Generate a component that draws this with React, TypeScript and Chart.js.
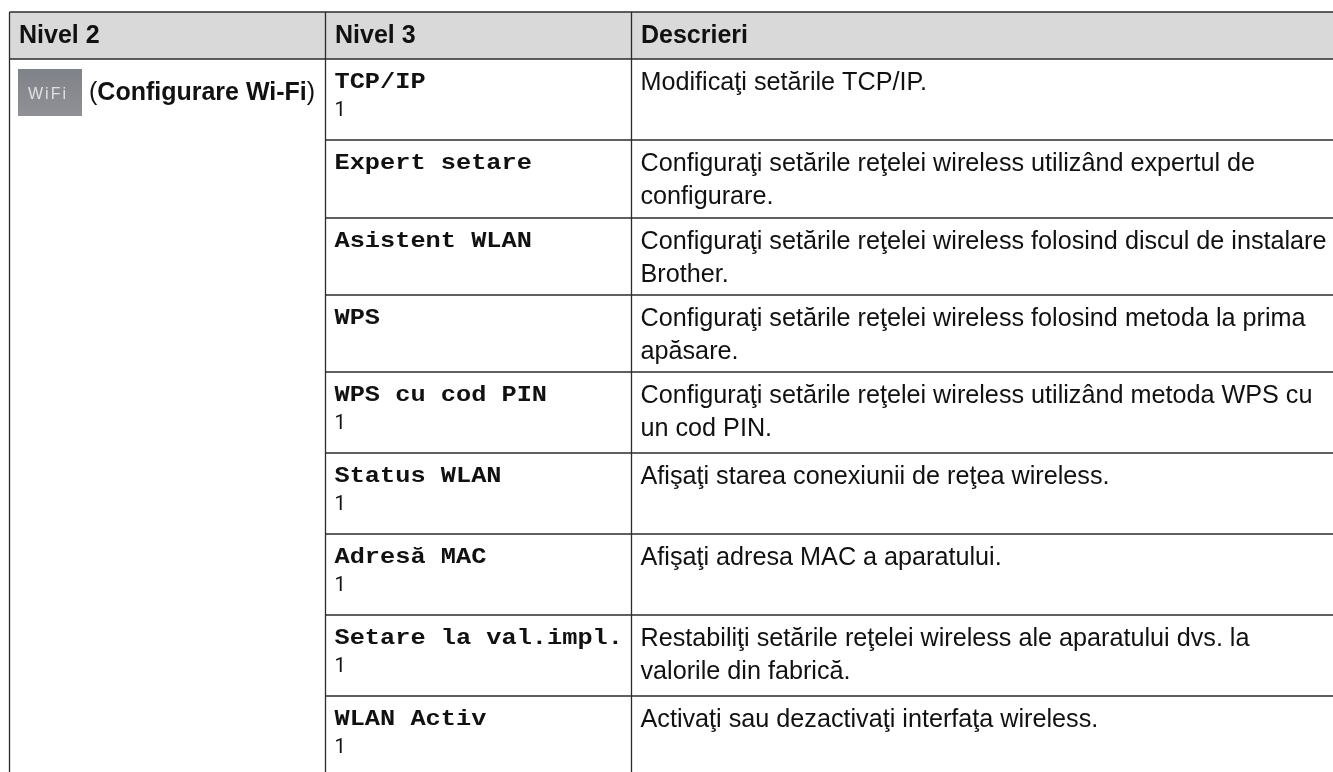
import React, { useEffect, useRef } from "react";
import { Chart, registerables } from "chart.js";

Chart.register(...registerables);

const SANS = '"Liberation Sans", Arial, sans-serif';
const MONO = '"Liberation Mono", "Courier New", monospace';
const DIGIT = 'Roboto, "Liberation Sans", sans-serif';

const headers = ["Nivel 2", "Nivel 3", "Descrieri"];
const level2Label = ["(", "Configurare Wi-Fi", ")"];
const iconLabel = "WiFi";
const settings = [
  "TCP/IP",
  "Expert setare",
  "Asistent WLAN",
  "WPS",
  "WPS cu cod PIN",
  "Status WLAN",
  "Adresă MAC",
  "Setare la val.impl.",
  "WLAN Activ",
];
const footnotes = ["1", "", "", "", "1", "1", "1", "1", "1"];
const descriptions = [
  ["Modificaţi setările TCP/IP."],
  ["Configuraţi setările reţelei wireless utilizând expertul de", "configurare."],
  ["Configuraţi setările reţelei wireless folosind discul de instalare", "Brother."],
  ["Configuraţi setările reţelei wireless folosind metoda la prima", "apăsare."],
  ["Configuraţi setările reţelei wireless utilizând metoda WPS cu", "un cod PIN."],
  ["Afişaţi starea conexiunii de reţea wireless."],
  ["Afişaţi adresa MAC a aparatului."],
  ["Restabiliţi setările reţelei wireless ale aparatului dvs. la", "valorile din fabrică."],
  ["Activaţi sau dezactivaţi interfaţa wireless."],
];

const columnEdges = [9.5, 325.5, 631.5, 1333];
const rowEdges = [59, 140, 218, 295, 372, 453, 534, 615, 696, 772];
const tableTop = 12;

const rule = (x0: number, y0: number, x1: number, y1: number) => ({
  type: "scatter" as const,
  data: [{ x: x0, y: y0 }, { x: x1, y: y1 }],
  showLine: true,
  pointRadius: 0,
  borderColor: "#2b2b2b",
  borderWidth: 1.3,
  fill: false,
});

const tablePlugin = {
  id: "tableText",
  beforeDatasetsDraw(chart: any) {
    const { ctx, scales } = chart;
    const X = (v: number) => scales.x.getPixelForValue(v);
    const Y = (v: number) => scales.y.getPixelForValue(v);
    ctx.save();
    ctx.fillStyle = "#d9d9d9";
    ctx.fillRect(X(columnEdges[0]), Y(tableTop), X(1333) - X(columnEdges[0]), Y(rowEdges[0]) - Y(tableTop));
    ctx.restore();
  },
  afterDatasetsDraw(chart: any) {
    const { ctx, scales } = chart;
    const X = (v: number) => scales.x.getPixelForValue(v);
    const Y = (v: number) => scales.y.getPixelForValue(v);
    ctx.save();
    ctx.textBaseline = "alphabetic";
    ctx.fillStyle = "#111";
    ctx.font = `bold 25px ${SANS}`;
    headers.forEach((h, i) => ctx.fillText(h, X(columnEdges[i]) + 9.5, Y(tableTop) + 31));

    const top = rowEdges[0];
    const g = ctx.createLinearGradient(0, Y(top + 10), 0, Y(top + 57));
    g.addColorStop(0, "#808289");
    g.addColorStop(1, "#8f9196");
    ctx.fillStyle = g;
    ctx.fillRect(X(18), Y(top + 10), 64, 47);
    ctx.fillStyle = "#dfe0e2";
    ctx.font = `16px ${SANS}`;
    (ctx as any).letterSpacing = "2px";
    ctx.fillText(iconLabel, X(28), Y(top + 40));
    (ctx as any).letterSpacing = "0px";

    ctx.fillStyle = "#111";
    let cx = X(89);
    const by = Y(top + 41);
    ctx.font = `25px ${SANS}`;
    ctx.fillText(level2Label[0], cx, by);
    cx += ctx.measureText(level2Label[0]).width;
    ctx.font = `bold 25px ${SANS}`;
    ctx.fillText(level2Label[1], cx, by);
    cx += ctx.measureText(level2Label[1]).width;
    ctx.font = `25px ${SANS}`;
    ctx.fillText(level2Label[2], cx, by);

    settings.forEach((s, i) => {
      const y = rowEdges[i];
      ctx.fillStyle = "#111";
      ctx.save();
      ctx.translate(X(columnEdges[1]) + 9, Y(y) + 29);
      ctx.scale(1, 0.88);
      ctx.font = `bold 25.3px ${MONO}`;
      ctx.fillText(s, 0, 0);
      ctx.restore();
      if (footnotes[i]) {
        ctx.font = `20px ${DIGIT}`;
        ctx.fillText(footnotes[i], X(columnEdges[1]) + 9, Y(y) + 57);
      }
      ctx.font = `25.2px ${SANS}`;
      descriptions[i].forEach((line, j) => {
        ctx.fillText(line, X(columnEdges[2]) + 9, Y(y) + 31 + j * 33);
      });
    });
    ctx.restore();
  },
};

export default function App() {
  const ref = useRef<HTMLCanvasElement>(null);
  useEffect(() => {
    if (!ref.current) return;
    const datasets: any[] = [
      rule(columnEdges[0], tableTop, 1333, tableTop),
      rule(columnEdges[0], rowEdges[0], 1333, rowEdges[0]),
      rule(columnEdges[0], tableTop, columnEdges[0], 772),
      rule(columnEdges[1], tableTop, columnEdges[1], 772),
      rule(columnEdges[2], tableTop, columnEdges[2], 772),
      ...rowEdges.slice(1, -1).map((y) => rule(columnEdges[1], y, 1333, y)),
    ];
    const chart = new Chart(ref.current, {
      type: "scatter",
      data: { datasets },
      plugins: [tablePlugin],
      options: {
        animation: false,
        responsive: false,
        layout: { padding: 0 },
        plugins: { legend: { display: false }, tooltip: { enabled: false } },
        scales: {
          x: { type: "linear", min: 0, max: 1333, display: false },
          y: { type: "linear", min: 0, max: 772, reverse: true, display: false },
        },
      },
    });
    return () => chart.destroy();
  }, []);
  return (
    <div style={{ position: "fixed", left: 0, top: 0, width: 1333, height: 772, background: "#fff" }}>
      <canvas ref={ref} width={1333} height={772} style={{ display: "block" }} />
    </div>
  );
}
